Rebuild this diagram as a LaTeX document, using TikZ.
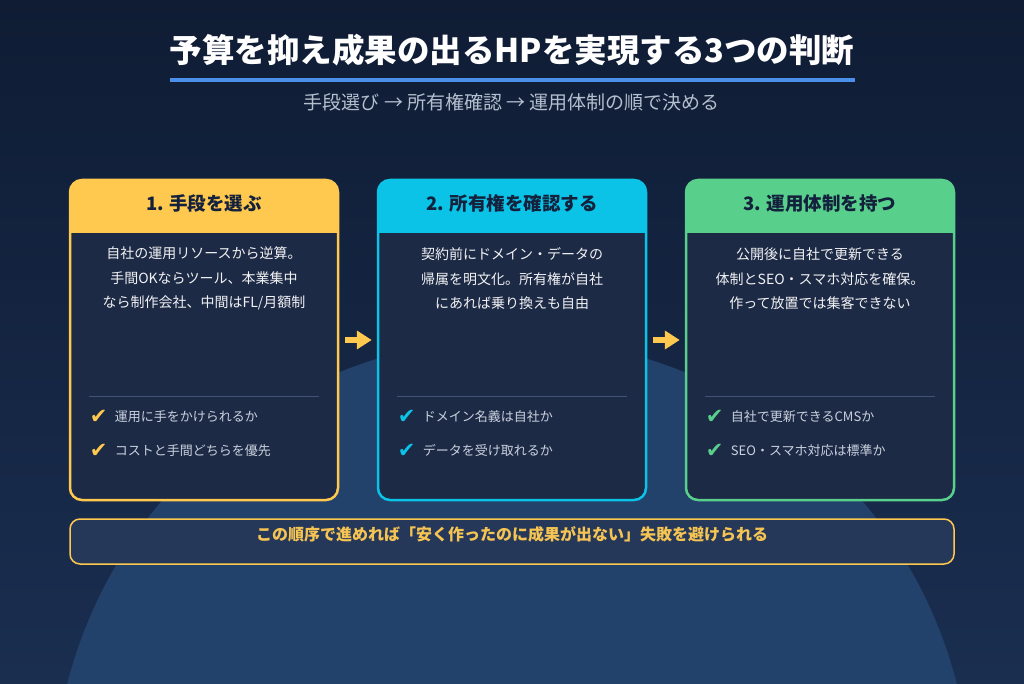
\documentclass[tikz,border=0pt]{standalone}
\usepackage{fontspec}
\setmainfont{Noto Sans CJK JP}
\newfontfamily\symfont{DejaVu Sans}
\usepackage{tikz}
\usetikzlibrary{arrows.meta,positioning}
\definecolor{bgtop}{HTML}{0F1C34}
\definecolor{bgbot}{HTML}{1A2E50}
\definecolor{moon}{HTML}{22426B}
\definecolor{cardbg}{HTML}{1D2A45}
\definecolor{noteback}{HTML}{263859}
\definecolor{cyel}{HTML}{FFC94F}
\definecolor{ccyan}{HTML}{0BC3E6}
\definecolor{cgreen}{HTML}{58D08C}
\definecolor{uline}{HTML}{4C8FEA}
\definecolor{subgray}{HTML}{B4BFCF}
\definecolor{itemgray}{HTML}{C9D1DE}
\definecolor{sepgray}{HTML}{42537A}
\definecolor{inkdark}{HTML}{14213D}
\definecolor{notetext}{HTML}{F6C453}

\begin{document}
\begin{tikzpicture}[
  x=1pt,y=1pt,
  card/.style={rectangle,rounded corners=12pt,minimum width=268pt,minimum height=320pt,fill=cardbg,line width=2.5pt},
  headtxt/.style={font=\fontsize{18.5}{20}\selectfont\bfseries,text=inkdark},
  bodytxt/.style={align=center,font=\fontsize{14}{24.5}\selectfont,text=white!94!cardbg},
  sepline/.style={draw=sepgray,line width=0.8pt},
  chk/.style={font=\symfont\fontsize{21}{21}\selectfont,inner sep=0pt},
  item/.style={font=\fontsize{13}{15}\selectfont,text=itemgray,inner sep=0pt},
  arr/.style={-{Triangle[length=15pt,width=18pt]},line width=6pt,draw=cyel,shorten <=6pt,shorten >=5pt},
  note/.style={rectangle,rounded corners=10pt,minimum width=884pt,minimum height=45pt,fill=noteback,draw=cyel,line width=1.5pt}
]
\useasboundingbox (0,0) rectangle (1024,683);
\shade[top color=bgtop,bottom color=bgbot] (0,0) rectangle (1024,683);
\begin{scope}
  \clip (0,0) rectangle (1024,683);
  \fill[moon] (512,-114.6) circle (459);
\end{scope}

% title
\node[font=\fontsize{32.5}{36}\selectfont\bfseries,text=white] (title) at (512,633) {予算を抑え成果の出るHPを実現する3つの判断};
\draw[draw=uline,line width=4pt] (170,603) -- (855,603);
\node[font=\fontsize{19}{22}\selectfont,text=subgray] (sub) at (512,581) {手段選び → 所有権確認 → 運用体制の順で決める};

% cards
\foreach \n/\x/\c in {1/204/cyel,2/512/ccyan,3/820/cgreen}{
  \node[card,draw=\c,path picture={
    \fill[\c,sharp corners] (path picture bounding box.north west) rectangle ([yshift=-53pt]path picture bounding box.north east);
  }] (card\n) at (\x,343) {};
  \draw[sepline] ([xshift=20pt,yshift=-218pt]card\n.north west) -- ([xshift=-20pt,yshift=-218pt]card\n.north east);
}

\node[headtxt] (head1) at ([yshift=-25pt]card1.north) {1. 手段を選ぶ};
\node[headtxt] (head2) at ([yshift=-25pt]card2.north) {2. 所有権を確認する};
\node[headtxt] (head3) at ([yshift=-25pt]card3.north) {3. 運用体制を持つ};

\node[bodytxt] (body1) at ([yshift=-100pt]card1.north) {自社の運用リソースから逆算。\\手間OKならツール、本業集中\\なら制作会社、中間はFL/月額制};
\node[bodytxt] (body2) at ([yshift=-100pt]card2.north) {契約前にドメイン・データの\\帰属を明文化。所有権が自社\\にあれば乗り換えも自由};
\node[bodytxt] (body3) at ([yshift=-100pt]card3.north) {公開後に自社で更新できる\\体制とSEO・スマホ対応を確保。\\作って放置では集客できない};

% check items
\node[chk,text=cyel] (k11) at ([xshift=30pt,yshift=-238pt]card1.north west) {✔};
\node[item,right=7pt of k11] (i11) {運用に手をかけられるか};
\node[chk,text=cyel] (k12) at ([xshift=30pt,yshift=-272pt]card1.north west) {✔};
\node[item,right=7pt of k12] (i12) {コストと手間どちらを優先};
\node[chk,text=ccyan] (k21) at ([xshift=30pt,yshift=-238pt]card2.north west) {✔};
\node[item,right=7pt of k21] (i21) {ドメイン名義は自社か};
\node[chk,text=ccyan] (k22) at ([xshift=30pt,yshift=-272pt]card2.north west) {✔};
\node[item,right=7pt of k22] (i22) {データを受け取れるか};
\node[chk,text=cgreen] (k31) at ([xshift=30pt,yshift=-238pt]card3.north west) {✔};
\node[item,right=7pt of k31] (i31) {自社で更新できるCMSか};
\node[chk,text=cgreen] (k32) at ([xshift=30pt,yshift=-272pt]card3.north west) {✔};
\node[item,right=7pt of k32] (i32) {SEO・スマホ対応は標準か};

% arrows
\draw[arr] (card1.east) -- (card2.west);
\draw[arr] (card2.east) -- (card3.west);

% bottom note
\node[note] (note) at (512,141.5) {};
\node[font=\fontsize{16}{18}\selectfont\bfseries,text=notetext] (notetxt) at ([yshift=7pt]note.center) {この順序で進めれば「安く作ったのに成果が出ない」失敗を避けられる};
\end{tikzpicture}
\end{document}
